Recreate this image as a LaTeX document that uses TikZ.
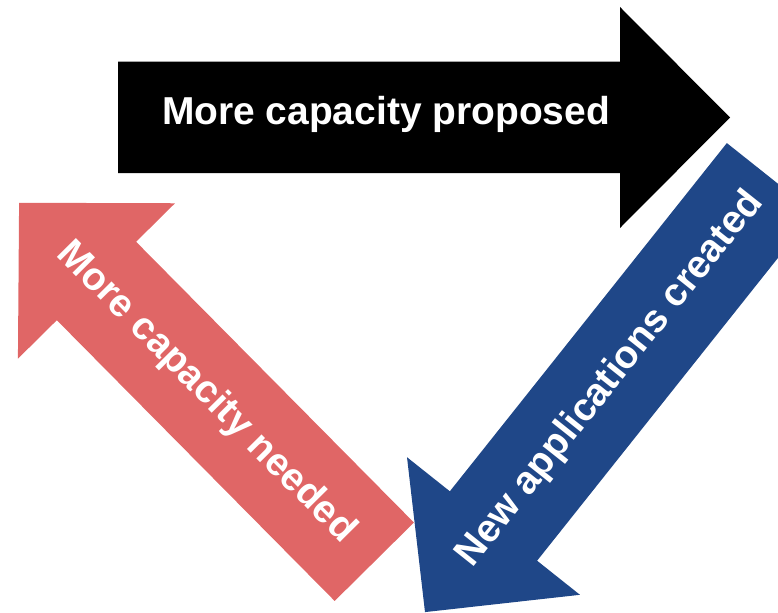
\documentclass[tikz,border=0pt]{standalone}
\usepackage{fontspec}
\setmainfont{Liberation Sans}
\begin{document}
\begin{tikzpicture}[x=0.75pt,y=-0.75pt,
  label/.style={text=white,font=\bfseries\fontsize{29.2}{35}\selectfont,inner sep=0pt}]
\definecolor{loopblack}{HTML}{000000}
\definecolor{loopblue}{HTML}{1F4788}
\definecolor{loopred}{HTML}{E06666}
\useasboundingbox (0,0) rectangle (778,613);
\clip (0,0) rectangle (778,613);
% block arrow drawn in a local frame: tip at the origin, pointing along +x;
% #1 tip position, #2 direction, #3 colour, #4 shaft length
\newcommand{\blockarrow}[4]{%
  \begin{scope}[shift={#1},rotate=#2]
    \fill[#3] (0,0) -- (-110,-110.5) -- (-110,-55.75) -- (-110-#4,-55.75)
      -- (-110-#4,55.75) -- (-110,55.75) -- (-110,110.5) -- cycle;
  \end{scope}}
% top arrow, pointing right
\blockarrow{(730,117.5)}{0}{loopblack}{502}
% right arrow, pointing down-left
\blockarrow{(425,612.1)}{-128.5}{loopblue}{445}
% left arrow, pointing up-left
\blockarrow{(19.1,202.8)}{134.7}{loopred}{395}
\node[label] (proposed) at (386,114.5) {More capacity proposed};
\node[label,rotate=51.5] (created) at (610.5,379) {New applications created};
\node[label,rotate=-45.3] (needed) at (206,392.5) {More capacity needed};
\end{tikzpicture}
\end{document}
